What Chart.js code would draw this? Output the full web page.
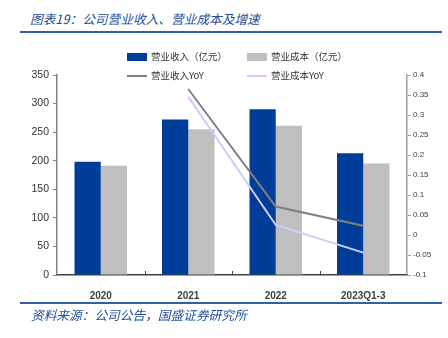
<!DOCTYPE html>
<html>
<head>
<meta charset="utf-8">
<script src="https://cdn.jsdelivr.net/npm/chart.js@4.4.0/dist/chart.umd.min.js"></script>
<style>
  body { margin: 0; background: #fff; }
  #wrap { position: relative; width: 448px; height: 338px; overflow: hidden; }
  #c { position: absolute; left: 0; top: 0; }
  .title { position: absolute; left: 30px; top: 9px; font: italic 12.7px "Noto Sans CJK SC"; color: #1f4e9c; }
  .rule { position: absolute; left: 20px; width: 422px; height: 2px; background: #2f5fae; }
  .src { position: absolute; left: 31px; top: 305px; font: italic 12.7px "Noto Sans CJK SC"; color: #1f4e9c; }
  .lg { position: absolute; font: 9.5px "Noto Sans CJK SC"; color: #333; white-space: nowrap; line-height: 12px; }
  .lg i { display: inline-block; width: 20px; vertical-align: middle; margin-right: 4px; }
</style>
</head>
<body>
<div id="wrap">
  <div class="title">图表19：公司营业收入、营业成本及增速</div>
  <div class="rule" style="top:31px"></div>
  <canvas id="c" width="448" height="338"></canvas>
  <div class="lg" style="left:127px;top:50px"><i style="height:8px;background:#003d99"></i>营业收入（亿元）</div>
  <div class="lg" style="left:247px;top:50px"><i style="height:8px;background:#bfbfbf"></i>营业成本（亿元）</div>
  <div class="lg" style="left:127px;top:69px"><i style="height:2px;background:#808080"></i>营业收入YoY</div>
  <div class="lg" style="left:247px;top:69px"><i style="height:2px;background:#ccccff"></i>营业成本YoY</div>
  <div class="rule" style="top:302px"></div>
  <div class="src">资料来源：公司公告，国盛证券研究所</div>
</div>
<script>
const categories = ['2020', '2021', '2022', '2023Q1-3'];
const revenue = [198, 272, 290, 213];
const cost = [191, 255, 261, 195];
const revenueYoY = [null, 0.365, 0.071, 0.023];
const costYoY = [null, 0.346, 0.025, -0.044];

// small tick marks between categories, pointing up into the plot
const innerTicks = {
    id: 'innerTicks',
    afterDraw(chart) {
        const x = chart.scales.x, ctx = chart.ctx, b = chart.chartArea.bottom;
        ctx.save();
        ctx.strokeStyle = '#404040';
        ctx.lineWidth = 1;
        for (let i = 0; i < categories.length - 1; i++) {
            const px = Math.round((x.getPixelForValue(i) + x.getPixelForValue(i + 1)) / 2) + 0.5;
            ctx.beginPath();
            ctx.moveTo(px, b);
            ctx.lineTo(px, b - 4);
            ctx.stroke();
        }
        ctx.restore();
    }
};

new Chart(document.getElementById('c'), {
    type: 'bar',
    data: {
        labels: categories,
        datasets: [
            { type: 'line', label: '营业收入YoY', data: revenueYoY, yAxisID: 'y1', borderColor: '#808080', borderWidth: 2, pointRadius: 0, order: 0 },
            { type: 'line', label: '营业成本YoY', data: costYoY, yAxisID: 'y1', borderColor: '#ccccff', borderWidth: 2, pointRadius: 0, order: 1 },
            { label: '营业收入（亿元）', data: revenue, backgroundColor: '#003d99', yAxisID: 'y', order: 2 },
            { label: '营业成本（亿元）', data: cost, backgroundColor: '#bfbfbf', yAxisID: 'y', order: 3 }
        ]
    },
    options: {
        responsive: false,
        animation: false,
        barPercentage: 1,
        categoryPercentage: 0.6,
        layout: { padding: { top: 75 } },
        plugins: { legend: { display: false }, tooltip: { enabled: false } },
        scales: {
            x: {
                afterFit(s) { s.height = 63; },
                grid: { display: false },
                border: { color: '#404040', width: 1.5 },
                ticks: { padding: 7, color: '#404040', font: { family: 'Liberation Sans', size: 10, weight: 'bold' } }
            },
            y: {
                position: 'left',
                min: 0, max: 350,
                afterFit(s) { s.width = 57; },
                grid: { drawOnChartArea: false, tickLength: 4, color: '#808080' },
                border: { color: '#808080', width: 1.5 },
                ticks: { stepSize: 50, padding: 4, color: '#333', font: { family: 'Liberation Sans', size: 10.5 } }
            },
            y1: {
                position: 'right',
                min: -0.1, max: 0.4,
                afterFit(s) { s.width = 41; },
                grid: { drawOnChartArea: false, tickLength: 4, color: '#a0a0a0' },
                border: { color: '#a0a0a0', width: 1.5 },
                ticks: {
                    stepSize: 0.05, padding: 2, color: '#404040',
                    font: { family: 'Liberation Sans', size: 8 },
                    callback: v => String(Number(v.toFixed(2)))
                }
            }
        }
    },
    plugins: [innerTicks]
});
</script>
</body>
</html>
